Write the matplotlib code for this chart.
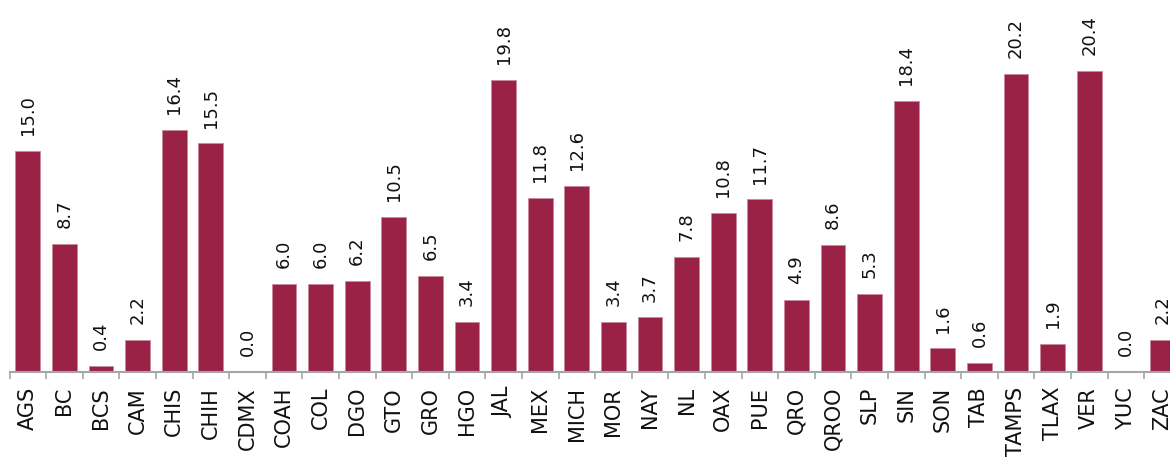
import matplotlib
matplotlib.use("Agg")
import matplotlib.pyplot as plt

categories = ["AGS", "BC", "BCS", "CAM", "CHIS", "CHIH", "CDMX", "COAH", "COL", "DGO",
              "GTO", "GRO", "HGO", "JAL", "MEX", "MICH", "MOR", "NAY", "NL", "OAX",
              "PUE", "QRO", "QROO", "SLP", "SIN", "SON", "TAB", "TAMPS", "TLAX", "VER",
              "YUC", "ZAC"]
values = [15.0, 8.7, 0.4, 2.2, 16.4, 15.5, 0.0, 6.0, 6.0, 6.2,
          10.5, 6.5, 3.4, 19.8, 11.8, 12.6, 3.4, 3.7, 7.8, 10.8,
          11.7, 4.9, 8.6, 5.3, 18.4, 1.6, 0.6, 20.2, 1.9, 20.4,
          0.0, 2.2]

W, H = 1170, 460
fig = plt.figure(figsize=(W / 100, H / 100), dpi=100)
left_px, step_px, base_px = 9.5, 36.6, 373
ax = fig.add_axes([left_px / W, (H - base_px) / H, len(categories) * step_px / W, base_px / H])

color = "#9B2247"
x = list(range(len(categories)))
ax.bar(x, values, width=0.68, color=color, edgecolor="#c9899c", linewidth=0.6, zorder=2)

for xi, v in zip(x, values):
    ax.annotate(f"{v:.1f}", xy=(xi, v), xytext=(0, 12), textcoords="offset points",
                rotation=90, ha="center", va="bottom", fontsize=13, color="#111111",
                family="DejaVu Sans")

ax.set_xlim(-0.5, len(categories) - 0.5)
ax.set_ylim(0, base_px / 14.75)

for s in ["top", "right", "left"]:
    ax.spines[s].set_visible(False)
ax.spines["bottom"].set_color("#a6a6a6")
ax.spines["bottom"].set_linewidth(1.5)
ax.set_yticks([])

ax.set_xticks([i + 0.5 for i in range(-1, len(categories))], minor=False)
ax.set_xticklabels([])
ax.tick_params(axis="x", which="major", length=5, width=1.2, color="#a6a6a6")
ax.set_xticks(x, minor=True)
ax.set_xticklabels(categories, minor=True, rotation=90, fontsize=15, color="#111111",
                   family="DejaVu Sans")
ax.tick_params(axis="x", which="minor", length=0, pad=10)

fig.savefig("out.png", dpi=100)
